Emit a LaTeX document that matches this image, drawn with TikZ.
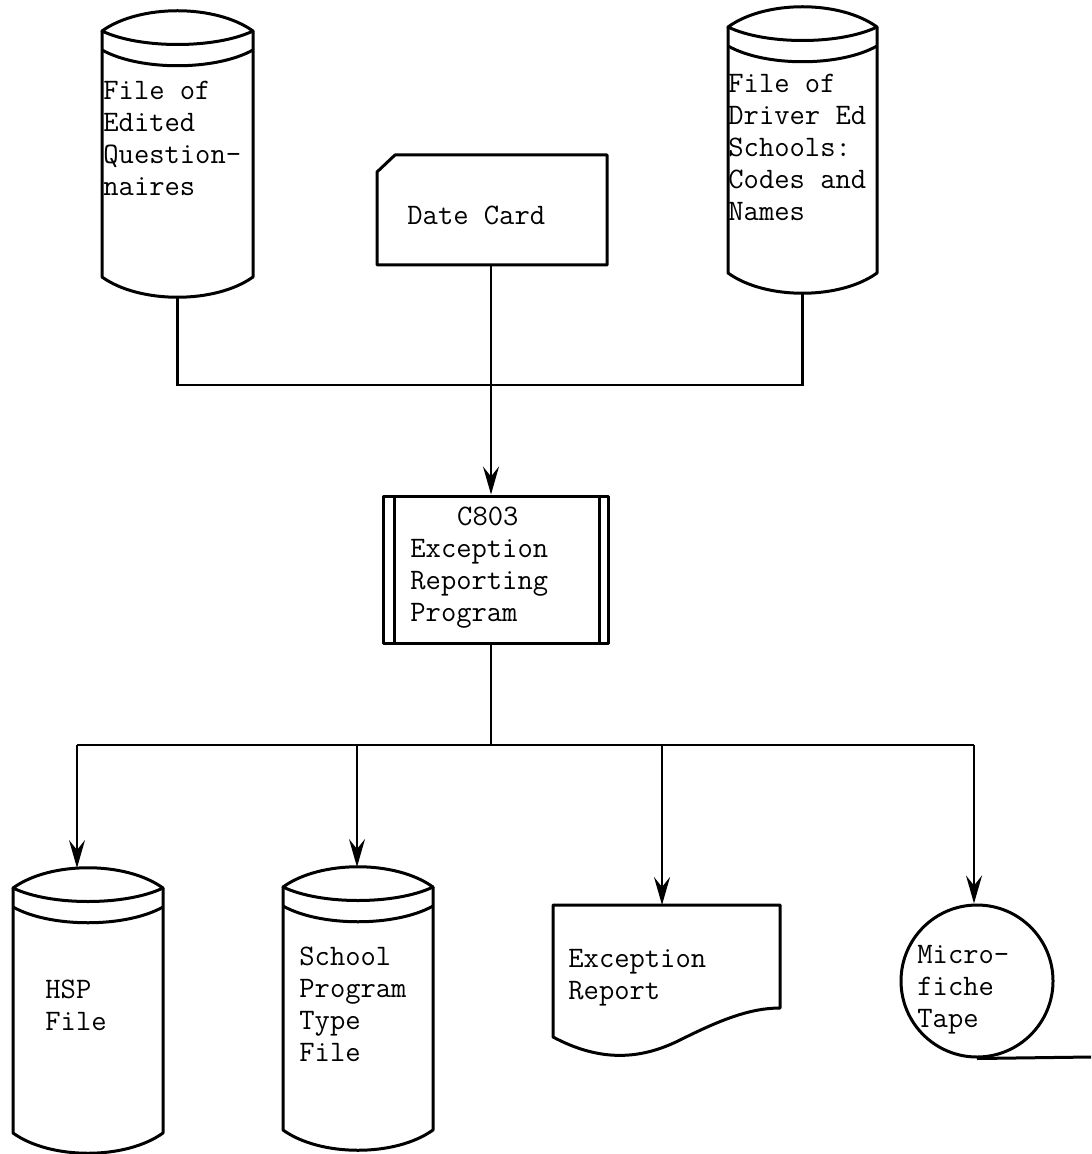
\documentclass[tikz,border=0pt]{standalone}
\usepackage{fontspec}
\usetikzlibrary{arrows.meta,calc}
\tikzset{
  shapeline/.style={line width=1.5pt, line join=round},
  conn/.style={line width=1.15pt},
  arr/.style={conn, -{Stealth[length=14pt,width=8pt,inset=5pt]}},
  lbl/.style={anchor=base west, inner sep=0pt, align=left, font=\ttfamily\fontsize{14.86pt}{16pt}\selectfont},
  pics/filecyl/.style n args={2}{code={
    \draw[shapeline] (-#1,0) .. controls (-#1/2,-27) and (#1/2,-27) .. (#1,0)
                             .. controls (#1/2,18) and (-#1/2,18) .. cycle;
    \draw[shapeline] (-#1,19) .. controls (-#1/2,40) and (#1/2,40) .. (#1,19);
    \draw[shapeline] (-#1,0) -- (-#1,#2) .. controls (-#1/2,#2+27) and (#1/2,#2+27) .. (#1,#2) -- (#1,0);
    \coordinate (-top) at (0,-20);
    \coordinate (-bot) at (0,#2+20);
  }}
}
\begin{document}
\begin{tikzpicture}[x=0.5pt,y=-0.5pt]
\useasboundingbox (0,0) rectangle (1091,1154);

% top inputs
\pic (tl) at (177.5,31) {filecyl={75.5}{246}};
\node[lbl] (tltext) at (103,196) {File of\\Edited\\Question-\\naires};

\pic (tr) at (802.5,27) {filecyl={74.5}{246}};
\node[lbl] (trtext) at (728,221) {File of\\Driver Ed\\Schools:\\Codes and\\Names};

\draw[shapeline] (395,155) -- (607,155) -- (607,265) -- (377,265) -- (377,172) -- cycle;
\coordinate (card-s) at (491,265);
\node[lbl] (cardtext) at (407,225) {Date Card};

% process
\node[draw, shapeline, rectangle, minimum width=112.5pt, minimum height=73.5pt, inner sep=0pt] (proc) at (495.5,569.5) {};
\draw[shapeline] ($(proc.north west)+(13,0)$) -- ($(proc.south west)+(13,0)$);
\draw[shapeline] ($(proc.north east)+(-10,0)$) -- ($(proc.south east)+(-10,0)$);
\node[lbl] (proctext) at (410,621) {\hspace*{23.4pt}C803\\Exception\\Reporting\\Program};

% input connectors
\coordinate (jn) at (491,385);
\draw[conn] (tl-bot) |- (jn) -| (tr-bot);
\draw[arr] (card-s) -- (card-s |- proc.north);

% outputs
\pic (hsp) at (88,888) {filecyl={75}{245}};
\node[lbl] (hsptext) at (45,1030) {HSP\\File};

\pic (spt) at (358,887) {filecyl={75}{243}};
\node[lbl] (spttext) at (299,1061) {School\\Program\\Type\\File};

\draw[shapeline] (553,905) -- (780,905) -- (780,1008)
  .. controls (750,1008) and (720,1020) .. (680,1040)
  .. controls (640,1060) and (600,1062) .. (553,1037) -- cycle;
\coordinate (doc-n) at (662,905);
\node[lbl] (doctext) at (568,999) {Exception\\Report};

\node[draw, shapeline, circle, minimum size=76pt, inner sep=0pt] (tape) at (977,981) {};
\coordinate (tapeend) at (1091,1057);
\draw[shapeline] (tape.south) -- (tapeend);
\node[lbl] (tapetext) at (917,1027) {Micro-\\fiche\\Tape};

% output connectors
\coordinate (br) at (491,745);
\coordinate (d1) at (77,745);
\coordinate (d2) at (357,745);
\coordinate (d3) at (662,745);
\coordinate (d4) at (974,745);
\draw[conn] (proc.south -| card-s) -- (br);
\draw[conn] (d1) -- (d4);
\draw[arr] (d1) -- (d1 |- hsp-top);
\draw[arr] (d2) -- (d2 |- spt-top);
\draw[arr] (d3) -- (doc-n);
\draw[arr] (d4) -- (d4 |- tape.north);
\end{tikzpicture}
\end{document}
